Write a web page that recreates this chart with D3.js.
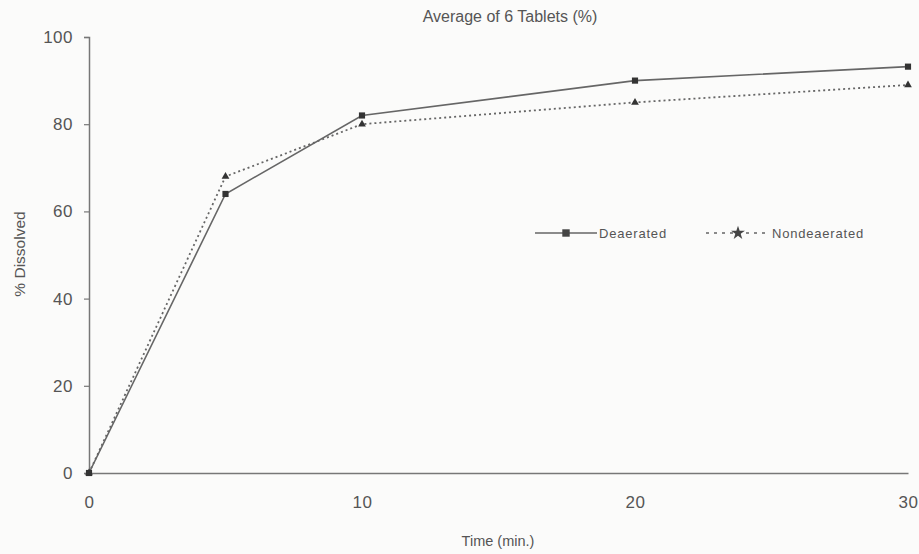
<!DOCTYPE html>
<html>
<head>
<meta charset="utf-8">
<script src="https://cdn.jsdelivr.net/npm/d3@7"></script>
<style>
  body { margin: 0; background: #fbfbfa; }
  svg { font-family: "Liberation Sans", Arial, sans-serif; }
</style>
</head>
<body>
<div class="graph-container"></div>
<script>
// data
const times = [0, 5, 10, 20, 30];
const deaerated = [0, 64, 82, 90, 93.2];
const nondeaerated = [0, 68, 80, 85, 89];
const xTicks = [0, 10, 20, 30];
const yTicks = [0, 20, 40, 60, 80, 100];

const [width, height] = [919, 554];
const margin = { top: 37, right: 11, bottom: 81, left: 89 };

const x = d3.scaleLinear().domain([0, 30]).range([margin.left, width - margin.right]);
const y = d3.scaleLinear().domain([0, 100]).range([height - margin.bottom, margin.top]);

const svg = d3.select('div.graph-container')
    .append('svg')
    .attr('width', width)
    .attr('height', height);

// axes
const yAxis = svg.append('g')
    .attr('transform', `translate(${margin.left},0)`)
    .call(d3.axisLeft(y).tickValues(yTicks).tickSize(5).tickPadding(11));
const xAxis = svg.append('g')
    .attr('transform', `translate(0,${y(0)})`)
    .call(d3.axisBottom(x).tickValues(xTicks).tickSize(0).tickPadding(23));
[yAxis, xAxis].forEach(g => {
    g.select('.domain').attr('stroke', '#777').attr('stroke-width', 1.5);
    g.selectAll('.tick line').attr('stroke', '#777').attr('stroke-width', 1.2);
    g.selectAll('text').attr('font-size', 17).attr('fill', '#555')
        .attr('letter-spacing', 0.5)
        .attr('font-family', '"Liberation Sans", Arial, sans-serif');
});

// titles
svg.append('text')
    .attr('x', 510).attr('y', 22)
    .attr('text-anchor', 'middle').attr('font-size', 16).attr('fill', '#555')
    .text('Average of 6 Tablets (%)');
svg.append('text')
    .attr('x', 498).attr('y', 546)
    .attr('text-anchor', 'middle').attr('font-size', 14.5).attr('fill', '#555')
    .text('Time (min.)');
svg.append('text')
    .attr('transform', 'translate(25,254) rotate(-90)')
    .attr('text-anchor', 'middle').attr('font-size', 15.5).attr('fill', '#555')
    .text('% Dissolved');

const series = [
    { name: 'Deaerated', values: deaerated, dash: null, legendDash: null, symbol: d3.symbolSquare, size: 38, legendSymbol: d3.symbolSquare, legendSize: 55 },
    { name: 'Nondeaerated', values: nondeaerated, dash: '2,3', legendDash: '3,5', symbol: d3.symbolTriangle, size: 26, legendSymbol: d3.symbolStar, legendSize: 60 }
];

const lineGen = d3.line()
    .x((d, i) => x(times[i]))
    .y(d => y(d));

series.forEach(s => {
    svg.append('path')
        .datum(s.values)
        .attr('d', lineGen)
        .attr('fill', 'none')
        .attr('stroke', '#666')
        .attr('stroke-width', s.dash ? 1.8 : 1.6)
        .attr('stroke-dasharray', s.dash);
    svg.append('g')
        .selectAll('path')
        .data(s.values)
        .enter()
        .append('path')
        .attr('transform', (d, i) => `translate(${x(times[i])},${y(d)})`)
        .attr('d', d3.symbol().type(s.symbol).size(s.size))
        .attr('fill', '#333');
});

// legend
const legendItems = [
    { s: series[0], x0: 535, x1: 597 },
    { s: series[1], x0: 706, x1: 770 }
];
const ly = 233;
legendItems.forEach(({ s, x0, x1 }) => {
    svg.append('line')
        .attr('x1', x0).attr('x2', x1).attr('y1', ly).attr('y2', ly)
        .attr('stroke', '#666').attr('stroke-width', 1.5)
        .attr('stroke-dasharray', s.legendDash);
    svg.append('path')
        .attr('transform', `translate(${(x0 + x1) / 2},${ly})`)
        .attr('d', d3.symbol().type(s.legendSymbol).size(s.legendSize))
        .attr('fill', '#444');
    svg.append('text')
        .attr('x', x1 + 2).attr('y', ly + 5)
        .attr('font-size', 13).attr('letter-spacing', 0.8).attr('fill', '#555')
        .text(s.name);
});
</script>
</body>
</html>
